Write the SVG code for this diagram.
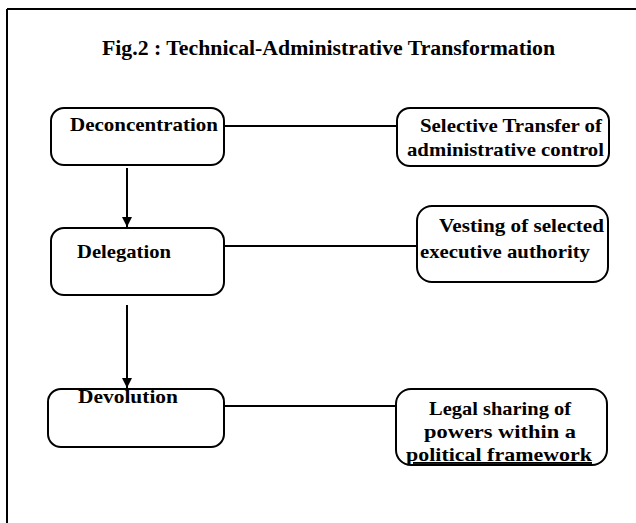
<svg xmlns="http://www.w3.org/2000/svg" width="636" height="523" viewBox="0 0 636 523">
<style>
.box{fill:none;stroke:#000;stroke-width:2}
.conn{stroke:#000;stroke-width:2;fill:none}
.t{font-family:"Liberation Serif","Times New Roman",serif;font-weight:bold;font-size:19px;fill:#000}
.title{font-family:"Liberation Serif","Times New Roman",serif;font-weight:bold;font-size:20px;fill:#000}
</style>
<defs>
<marker id="ah" viewBox="0 0 10 10" refX="10" refY="5" markerWidth="5" markerHeight="5" orient="auto" markerUnits="strokeWidth">
<path d="M0,0 L10,5 L0,10 z" fill="#000"/>
</marker>
</defs>
<rect width="636" height="523" fill="#fff"/>
<g id="frame">
<path d="M7,9 H636 M7,9 V523" class="conn"/>
</g>
<text class="title" x="102" y="55" textLength="453" lengthAdjust="spacingAndGlyphs">Fig.2 : Technical-Administrative Transformation</text>
<g id="connectors">
<line class="conn" x1="224" y1="126" x2="397" y2="126"/>
<line class="conn" x1="224" y1="246" x2="417" y2="246"/>
<line class="conn" x1="224" y1="406" x2="396" y2="406"/>
<line class="conn" x1="127" y1="168" x2="127" y2="227" marker-end="url(#ah)"/>
<line class="conn" x1="127" y1="305" x2="127" y2="388" marker-end="url(#ah)"/>
</g>
<g id="deconcentration">
<rect class="box" x="51" y="108" width="173" height="57" rx="13"/>
<text class="t" x="70" y="131" textLength="148" lengthAdjust="spacingAndGlyphs">Deconcentration</text>
</g>
<g id="delegation">
<rect class="box" x="51" y="228" width="173" height="67" rx="13"/>
<text class="t" x="77" y="258" textLength="94" lengthAdjust="spacingAndGlyphs">Delegation</text>
</g>
<g id="devolution">
<rect class="box" x="48" y="389" width="176" height="58" rx="13"/>
<text class="t" x="78" y="403" textLength="100" lengthAdjust="spacingAndGlyphs">Devolution</text>
</g>
<g id="selective">
<rect class="box" x="397" y="108" width="212" height="58" rx="13"/>
<text class="t" x="420" y="132" textLength="182" lengthAdjust="spacingAndGlyphs">Selective Transfer of</text>
<text class="t" x="407" y="156" textLength="197" lengthAdjust="spacingAndGlyphs">administrative control</text>
</g>
<g id="vesting">
<rect class="box" x="417" y="206" width="191" height="76" rx="15"/>
<text class="t" x="439" y="232" textLength="165" lengthAdjust="spacingAndGlyphs">Vesting of selected</text>
<text class="t" x="420" y="258" textLength="170" lengthAdjust="spacingAndGlyphs">executive authority</text>
</g>
<g id="legal">
<rect class="box" x="396" y="389" width="211" height="76" rx="15"/>
<text class="t" x="429" y="415" textLength="142" lengthAdjust="spacingAndGlyphs">Legal sharing of</text>
<text class="t" x="424" y="438" textLength="152" lengthAdjust="spacingAndGlyphs">powers within a</text>
<text class="t" x="406" y="461" textLength="186" lengthAdjust="spacingAndGlyphs" text-decoration="underline">political framework</text>
</g>
</svg>
